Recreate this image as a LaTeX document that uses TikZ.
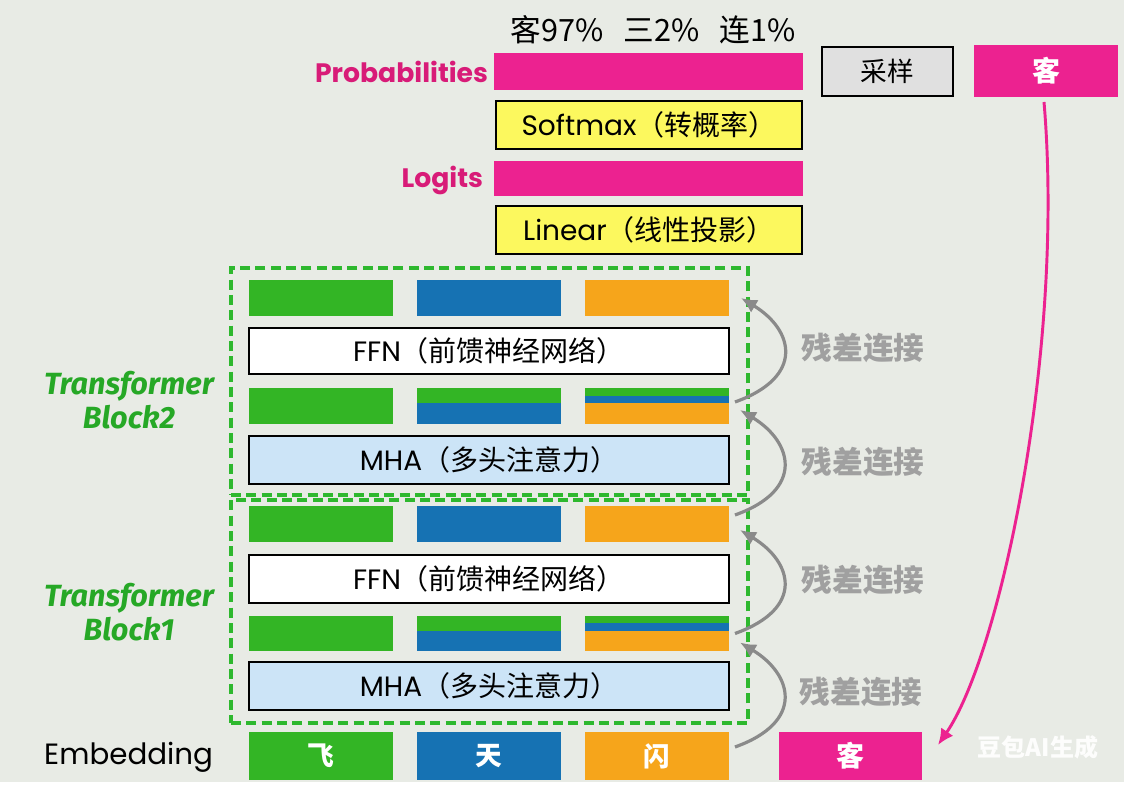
\documentclass[tikz,border=0pt]{standalone}
\usepackage{fontspec}
\setmainfont{Poppins}
\newfontfamily\cjk{Noto Sans CJK SC}
\newfontfamily\fira{Fira Sans}
\usetikzlibrary{arrows.meta,calc}
\definecolor{bg}{HTML}{E8EBE5}
\definecolor{cmag}{HTML}{EC2290}
\definecolor{labmag}{HTML}{D81B78}
\definecolor{cgreen}{HTML}{33B525}
\definecolor{cblue}{HTML}{1672B3}
\definecolor{corange}{HTML}{F6A51B}
\definecolor{cyellow}{HTML}{FCF85E}
\definecolor{clblue}{HTML}{CCE4F7}
\definecolor{cgreybox}{HTML}{E0E0E0}
\definecolor{dgreen}{HTML}{2EB82E}
\definecolor{tgreen}{HTML}{26A826}
\definecolor{agrey}{HTML}{8A8A8A}
\definecolor{tgrey}{HTML}{A0A0A0}
\newcommand\pbox[7]{\node[#6, minimum width={(#4-#2)*0.75pt}, minimum height={(#5-#3)*0.75pt}] (#1) at ({(#2+#4)/2},{(#3+#5)/2}) {#7};}
\tikzset{
  every node/.style={inner sep=0pt, outer sep=0pt},
  pinkbar/.style={fill=cmag},
  gbar/.style={fill=cgreen},
  bbar/.style={fill=cblue},
  obar/.style={fill=corange},
  boxtext/.style={font=\fontsize{21pt}{24pt}\selectfont, text=black},
  ybox/.style={boxtext, fill=cyellow, draw=black, line width=2.2pt},
  wbox/.style={boxtext, fill=white, draw=black, line width=2.2pt},
  lbbox/.style={boxtext, fill=clblue, draw=black, line width=2.2pt},
  gbox/.style={fill=cgreybox, draw=black, line width=2.2pt, font=\cjk\fontsize{20pt}{23pt}\selectfont},
  kbox/.style={fill=cmag, text=white, font=\cjk\bfseries\fontsize{21pt}{24pt}\selectfont},
  embbox/.style={text=white, font=\cjk\bfseries\fontsize{20pt}{24pt}\selectfont},
  dbox/.style={draw=dgreen, line width=3pt, dash pattern=on 7.5pt off 4pt},
  lbl/.style={font=\bfseries\fontsize{20pt}{23pt}\selectfont, text=labmag},
  tlabel/.style={font=\fira\bfseries\itshape\fontsize{23pt}{26pt}\selectfont, text=tgreen, align=center},
  reslabel/.style={font=\cjk\bfseries\fontsize{23pt}{26pt}\selectfont, text=tgrey},
  resarrow/.style={draw=agrey, line width=2.4pt, -{Latex[length=12pt,width=11pt]}},
  magarrow/.style={draw=cmag, line width=2.2pt, -{Latex[length=12pt,width=11pt]}}
}
\begin{document}
\begin{tikzpicture}[x=0.75pt,y=-0.75pt]
\fill[bg] (0,0) rectangle (1124,787);
\fill[white] (0,782) rectangle (1124,787);
\useasboundingbox (0,0) rectangle (1124,787);

% top section
\node[font=\cjk\fontsize{23pt}{26pt}\selectfont] (pct) at (653,30) {客97\%\hspace{0.65em}三2\%\hspace{0.65em}连1\%};
\node[lbl, anchor=east] (plab) at (488,72) {Probabilities};
\pbox{prob}{494}{53}{803}{90}{pinkbar}{}
\pbox{soft}{496}{101}{802}{149}{ybox}{Softmax{\cjk（转概率）}}
\node[lbl, anchor=east] (llab) at (483,180) {Logits};
\pbox{logit}{494}{161}{803}{196}{pinkbar}{}
\pbox{lin}{496}{206}{802}{254}{ybox}{Linear{\cjk（线性投影）}}
\pbox{samp}{822}{47}{953}{96}{gbox}{采样}
\pbox{ktop}{974}{45}{1118}{97}{kbox}{客}

% block 2
\pbox{blk2}{231}{268}{748}{495}{dbox}{}
\pbox{g2c}{249}{280}{393}{316}{gbar}{}
\pbox{b2c}{417}{280}{561}{316}{bbar}{}
\pbox{o2c}{585}{280}{729}{316}{obar}{}
\pbox{ffn2}{249}{328}{729}{374}{wbox}{FFN{\cjk（前馈神经网络）}}
\pbox{g2b}{249}{388}{393}{424}{gbar}{}
\pbox{b2b}{417}{388}{561}{424}{bbar}{}
\fill[cgreen] (417,388) rectangle (561,403);
\pbox{o2b}{585}{388}{729}{424}{obar}{}
\fill[cgreen] (585,388) rectangle (729,396);
\fill[cblue] (585,396) rectangle (729,403);
\pbox{mha2}{249}{436}{729}{484}{lbbox}{MHA{\cjk（多头注意力）}}

% block 1
\pbox{blk1}{231}{500}{748}{723}{dbox}{}
\pbox{g1c}{249}{506}{393}{542}{gbar}{}
\pbox{b1c}{417}{506}{561}{542}{bbar}{}
\pbox{o1c}{585}{506}{729}{542}{obar}{}
\pbox{ffn1}{249}{555}{729}{603}{wbox}{FFN{\cjk（前馈神经网络）}}
\pbox{g1b}{249}{616}{393}{651}{gbar}{}
\pbox{b1b}{417}{616}{561}{651}{bbar}{}
\fill[cgreen] (417,616) rectangle (561,631);
\pbox{o1b}{585}{616}{729}{651}{obar}{}
\fill[cgreen] (585,616) rectangle (729,623);
\fill[cblue] (585,623) rectangle (729,631);
\pbox{mha1}{249}{662}{729}{710}{lbbox}{MHA{\cjk（多头注意力）}}

% embedding
\node[anchor=east, font=\fontsize{22pt}{26pt}\selectfont] (emb) at (213,757) {Embedding};
\pbox{e1}{249}{732}{393}{780}{gbar,embbox}{飞}
\pbox{e2}{417}{732}{561}{780}{bbar,embbox}{天}
\pbox{e3}{585}{732}{729}{780}{obar,embbox}{闪}
\pbox{kbot}{779}{732}{922}{780}{kbox}{客}

% labels
\node[tlabel] (t2) at (129,400) {Transformer\\Block2};
\node[tlabel] (t1) at (129,612) {Transformer\\Block1};
\node[reslabel] (r1) at (863,348) {残差连接};
\node[reslabel] (r2) at (863,462) {残差连接};
\node[reslabel] (r3) at (863,580) {残差连接};
\node[reslabel] (r4) at (861,692) {残差连接};
\node[font=\cjk\bfseries\fontsize{18pt}{20pt}\selectfont, text=white, opacity=0.92] (wm) at (1038,747) {豆包AI生成};

% residual arrows
\draw[resarrow] ($(o2b.east)+(6,-4)$) .. controls +(70,-25) and +(53,32) .. ($(o2c.east)+(12,0)$);
\draw[resarrow] ($(o1c.east)+(6,-9)$) .. controls +(70,-25) and +(53,32) .. ($(o2b.east)+(11,4)$);
\draw[resarrow] ($(o1b.east)+(6,0)$) .. controls +(70,-25) and +(53,32) .. ($(o1c.east)+(11,6)$);
\draw[resarrow] ($(e3.east)+(6,-9)$) .. controls +(70,-25) and +(53,32) .. ($(o1b.east)+(11,9)$);

% sampling arrow
\draw[magarrow] ($(ktop.south)+(-2,5)$) .. controls (1065,350) and (1000,655) .. ($(kbot.east)+(16,-11)$);
\end{tikzpicture}
\end{document}
